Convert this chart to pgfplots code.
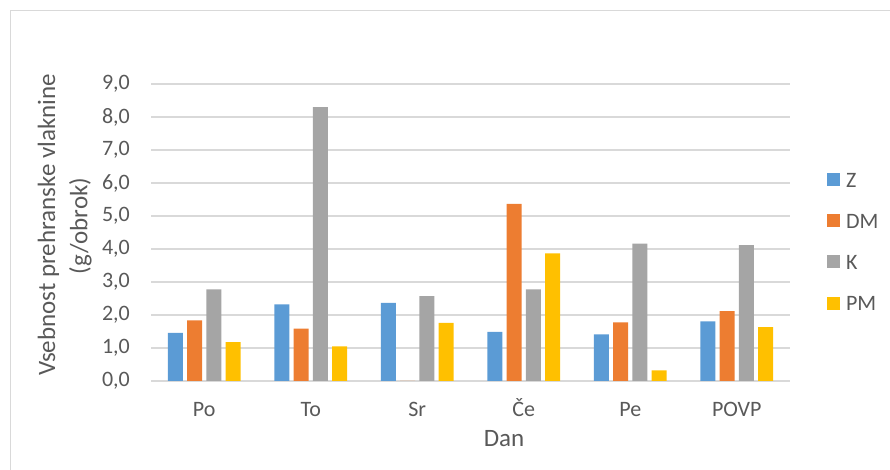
\documentclass[border=0pt]{standalone}
\usepackage{pgfplots}
\pgfplotsset{compat=1.18}
\usepackage{fontspec}
\setmainfont{Carlito}

\definecolor{txtgray}{HTML}{595959}
\definecolor{gridgray}{HTML}{D9D9D9}
\definecolor{serZ}{HTML}{5B9BD5}
\definecolor{serDM}{HTML}{ED7D31}
\definecolor{serK}{HTML}{A5A5A5}
\definecolor{serPM}{HTML}{FFC000}

\newcommand{\chartfont}{\fontsize{22}{27}\selectfont}
\newcommand{\titlefont}{\fontsize{25}{30}\selectfont}

\begin{document}
\begin{tikzpicture}[x=1pt,y=1pt]
  \path[use as bounding box] (0,0) rectangle (890,470);
  % chart area frame (top and left edges)
  \draw[gridgray, line width=1pt] (10,0) -- (10,459) -- (890,459);

  \begin{axis}[
    at={(151pt,89pt)}, anchor=south west,
    scale only axis,
    width=639pt, height=297pt,
    ybar=4.3pt, bar width=15pt,
    xmin=-0.5, xmax=5.5,
    ymin=0, ymax=9,
    ytick={0,1,...,9},
    xtick={0,1,2,3,4,5},
    xticklabels={Po,To,Sr,Če,Pe,POVP},
    major tick length=0pt,
    axis x line=bottom,
    axis y line=left,
    x axis line style={-, gridgray, line width=1.2pt},
    y axis line style={draw=none},
    ymajorgrids,
    grid style={gridgray, line width=1.1pt},
    /pgf/number format/.cd, fixed, fixed zerofill, precision=1, use comma, assume math mode=true,
    /pgfplots/.cd,
    tick label style={font=\chartfont, text=txtgray},
    yticklabel style={anchor=east, inner sep=0pt, xshift=-21pt},
    xticklabel style={anchor=base, inner sep=0pt, yshift=-36pt},
    legend style={
      at={(1.0579,0.707)}, anchor=north west,
      draw=none, fill=none, inner sep=0pt, outer sep=0pt,
      font=\chartfont, text=txtgray,
      column sep=6pt, row sep=20.3pt,
      nodes={inner sep=0pt, text height=16pt, text depth=5pt, anchor=base west},
    },
    legend cell align=left,
    legend image code/.code={\fill[#1] (0pt,1.2pt) rectangle (13pt,14.2pt);},
  ]
    \addplot[fill=serZ, draw=none] coordinates {(0,1.46) (1,2.32) (2,2.37) (3,1.49) (4,1.41) (5,1.81)};
    \addplot[fill=serDM, draw=none] coordinates {(0,1.84) (1,1.59) (2,0) (3,5.37) (4,1.78) (5,2.12)};
    \addplot[fill=serK, draw=none] coordinates {(0,2.78) (1,8.30) (2,2.57) (3,2.78) (4,4.16) (5,4.12)};
    \addplot[fill=serPM, draw=none] coordinates {(0,1.18) (1,1.05) (2,1.76) (3,3.87) (4,0.32) (5,1.63)};
    \legend{Z,DM,K,PM}
  \end{axis}

  % axis titles
  \node[rotate=90, text=txtgray, font=\titlefont, anchor=center] at (48.5,245) {Vsebnost prehranske vlaknine};
  \node[rotate=90, text=txtgray, font=\titlefont, anchor=center] at (80.5,244) {(g/obrok)};
  \node[text=txtgray, font=\titlefont, anchor=base] at (504,23) {Dan};
\end{tikzpicture}
\end{document}
